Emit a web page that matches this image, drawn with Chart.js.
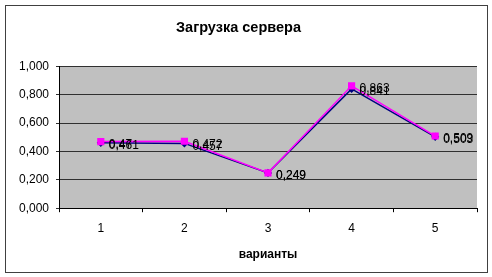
<!DOCTYPE html>
<html><head><meta charset="utf-8">
<script src="https://cdn.jsdelivr.net/npm/chart.js@4/dist/chart.umd.min.js"></script>
<style>html,body{margin:0;padding:0;background:#fff}#wrap{width:492px;height:277px}</style>
</head><body><div id="wrap"><canvas id="c" width="492" height="277"></canvas></div>
<script>
const categories = ['1', '2', '3', '4', '5'];
const seriesA = [0.461, 0.457, 0.249, 0.841, 0.503];
const seriesB = [0.47, 0.472, 0.249, 0.863, 0.509];
const yTicks = [0, 0.2, 0.4, 0.6, 0.8, 1.0];
const titleText = 'Загрузка сервера';
const xTitle = 'варианты';

const FONT = '"Liberation Sans", Arial, sans-serif';

const frame = {
  id: 'frame',
  beforeDraw(chart) {
    const {ctx, chartArea: a} = chart;
    ctx.save();
    ctx.fillStyle = '#fff';
    ctx.fillRect(0, 0, chart.width, chart.height);
    ctx.fillStyle = '#c0c0c0';
    ctx.fillRect(a.left, a.top, a.right - a.left, a.bottom - a.top);
    ctx.strokeStyle = '#404040';
    ctx.lineWidth = 1;
    ctx.strokeRect(5.5, 5.5, 482, 267);
    ctx.restore();
  }
};

const labels = {
  id: 'pointLabels',
  afterDatasetsDraw(chart) {
    const ctx = chart.ctx;
    ctx.save();
    ctx.font = '12px ' + FONT;
    ctx.fillStyle = '#000';
    ctx.textAlign = 'left';
    ctx.textBaseline = 'middle';
    chart.data.datasets.forEach((ds, i) => {
      const meta = chart.getDatasetMeta(i);
      meta.data.forEach((pt, j) => {
        const t = String(ds.data[j]).replace('.', ',');
        ctx.fillText(t, pt.x + 8, pt.y + 3);
      });
    });
    ctx.restore();
  }
};

new Chart(document.getElementById('c'), {
  type: 'line',
  data: {
    labels: categories,
    datasets: [
      {
        label: 'A', data: seriesA, borderColor: '#000080', backgroundColor: '#000080',
        borderWidth: 1.5, pointStyle: 'rectRot', pointRadius: 3, pointHoverRadius: 3,
        tension: 0, order: 2
      },
      {
        label: 'B', data: seriesB, borderColor: '#ff00ff', backgroundColor: '#ff00ff',
        borderWidth: 1.5, pointStyle: 'rect', pointRadius: 4, pointHoverRadius: 4,
        tension: 0, order: 1
      }
    ]
  },
  plugins: [frame, labels],
  options: {
    responsive: false,
    animation: false,
    events: [],
    layout: { padding: { left: 0, right: 15, top: 0, bottom: 15 } },
    plugins: {
      legend: { display: false },
      tooltip: { enabled: false },
      title: {
        display: true, text: titleText, color: '#000',
        font: { family: FONT, size: 14.5, weight: 'bold' },
        padding: { top: 19, bottom: 30 }
      }
    },
    scales: {
      x: {
        offset: true,
        grid: { offset: true, drawOnChartArea: false, drawTicks: true, tickLength: 4, color: '#000' },
        border: { color: '#000', width: 1 },
        ticks: { color: '#000', font: { family: FONT, size: 12 }, padding: 9 },
        title: { display: true, text: xTitle, color: '#000', font: { family: FONT, size: 12, weight: 'bold' }, padding: { top: 3, bottom: 0 } }
      },
      y: {
        min: 0, max: 1,
        afterBuildTicks(scale) { scale.ticks = yTicks.map(v => ({ value: v })); },
        afterFit(scale) { scale.width = 59; },
        grid: { color: '#303030', tickLength: 3, drawTicks: true },
        border: { color: '#000', width: 1 },
        ticks: {
          color: '#000', font: { family: FONT, size: 12 }, padding: 7,
          callback: v => v.toFixed(3).replace('.', ',')
        }
      }
    }
  }
});
</script>
</body></html>
